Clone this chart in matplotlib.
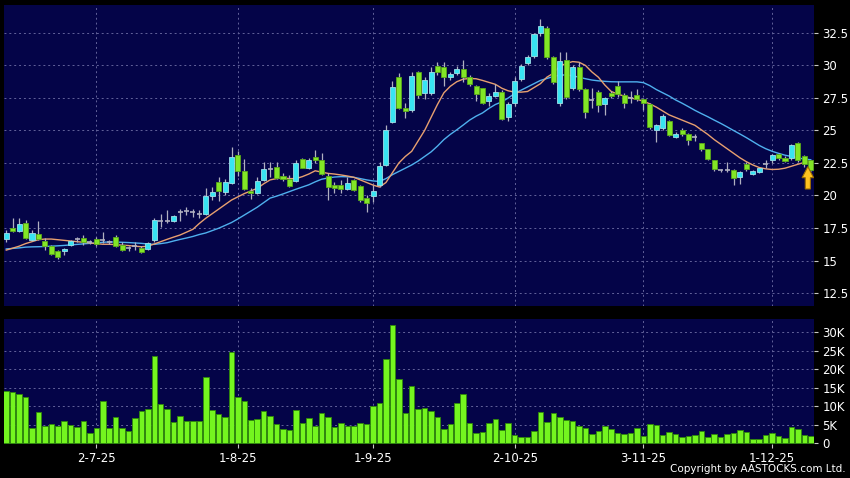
import numpy as np
import matplotlib
matplotlib.use("Agg")
import matplotlib.pyplot as plt
from matplotlib.patches import FancyArrow

# ---- data (daily bars, 11 Jun 2025 - 8 Dec 2025) ----
opens = [16.63, 17.53, 17.27, 17.86, 16.58, 17.07, 16.53, 16.12, 15.70, 15.70,
         16.17, 16.68, 16.70, 16.45, 16.63, 16.58, 16.45, 16.78, 16.19, 15.94,
         16.12, 16.00, 15.91, 16.58, 18.04, 18.04, 18.04, 18.70, 18.80, 18.70,
         18.60, 18.57, 19.96, 21.01, 20.24, 20.93, 23.09, 21.91, 20.34, 20.16,
         21.19, 22.01, 22.21, 21.52, 21.24, 21.14, 22.80, 22.09, 22.93, 22.73,
         21.52, 20.80, 20.80, 20.50, 21.19, 20.73, 19.78, 19.96, 20.80, 22.34,
         25.63, 29.09, 26.70, 26.58, 29.47, 27.86, 27.86, 29.99, 29.91, 29.09,
         29.40, 29.70, 29.09, 28.42, 28.25, 27.27, 27.65, 27.99, 26.01, 27.09,
         28.94, 30.17, 30.76, 32.47, 32.86, 30.63, 27.09, 30.42, 28.25, 29.85,
         28.19, 27.35, 27.99, 27.01, 27.86, 28.42, 27.73, 27.50, 27.73, 27.40,
         27.04, 25.04, 25.17, 25.73, 24.47, 25.00, 24.71, 24.47, 24.01, 23.58,
         22.70, 21.93, 21.93, 21.96, 21.45, 22.40, 21.63, 21.78, 22.45, 22.73,
         23.19, 22.91, 22.86, 24.01, 23.04, 22.73]
highs = [17.35, 18.30, 18.24, 18.10, 17.35, 18.04, 16.76, 16.20, 15.80, 16.00,
         16.58, 16.83, 16.96, 16.58, 16.78, 17.20, 16.60, 17.00, 16.45, 16.12,
         16.45, 16.12, 16.42, 18.25, 18.58, 18.90, 18.47, 19.00, 19.14, 18.94,
         18.90, 20.55, 20.68, 21.40, 21.30, 23.75, 23.40, 22.78, 20.55, 21.45,
         22.60, 22.60, 22.60, 21.70, 21.57, 22.70, 22.90, 22.85, 23.50, 23.30,
         21.70, 21.05, 21.19, 21.45, 21.30, 20.80, 20.04, 20.80, 22.60, 25.42,
         28.83, 29.40, 27.10, 29.50, 29.60, 29.10, 29.90, 30.25, 30.30, 29.50,
         29.95, 30.45, 29.30, 28.50, 28.30, 27.85, 28.60, 28.10, 27.20, 29.10,
         30.10, 30.80, 32.50, 33.60, 33.00, 30.70, 31.00, 31.00, 30.00, 30.30,
         28.30, 28.30, 28.10, 27.55, 28.00, 28.80, 27.90, 28.00, 28.20, 27.50,
         27.10, 25.50, 26.30, 25.80, 24.85, 25.20, 24.80, 24.70, 24.05, 23.60,
         22.75, 22.05, 22.60, 22.00, 21.85, 22.60, 21.95, 22.15, 22.70, 23.20,
         23.30, 23.00, 23.95, 24.10, 23.10, 22.75]
lows = [16.45, 17.22, 17.20, 16.65, 16.53, 16.55, 15.81, 15.42, 15.14, 15.42,
        16.12, 16.45, 16.20, 16.27, 16.12, 16.32, 16.30, 16.02, 15.73, 15.73,
        15.81, 15.55, 15.81, 16.45, 17.60, 17.86, 17.94, 18.04, 18.50, 18.32,
        18.30, 18.50, 19.65, 19.60, 20.00, 20.88, 21.50, 20.42, 19.70, 20.10,
        21.10, 21.40, 21.27, 21.15, 20.62, 21.05, 22.08, 22.00, 22.50, 21.58,
        19.65, 20.16, 20.16, 20.42, 20.37, 19.52, 18.75, 19.52, 20.68, 22.27,
        25.55, 26.62, 25.94, 26.40, 27.50, 27.40, 27.70, 29.30, 28.40, 28.90,
        29.30, 28.70, 28.40, 27.30, 27.00, 26.90, 27.60, 25.80, 25.70, 26.90,
        28.80, 30.00, 30.60, 32.30, 30.50, 28.60, 26.90, 27.40, 28.10, 28.00,
        25.95, 26.70, 26.40, 26.20, 27.50, 27.60, 26.70, 27.10, 27.30, 26.60,
        25.10, 24.15, 25.00, 24.55, 24.40, 24.55, 23.90, 24.20, 23.45, 22.70,
        21.85, 21.80, 21.80, 20.80, 20.85, 21.85, 21.55, 21.70, 22.15, 22.50,
        22.75, 22.55, 22.75, 22.60, 22.20, 21.90]
closes = [17.09, 17.27, 17.78, 16.76, 17.09, 16.63, 16.12, 15.50, 15.30, 15.90,
          16.48, 16.68, 16.40, 16.45, 16.27, 16.58, 16.45, 16.12, 15.81, 15.94,
          16.12, 15.65, 16.32, 18.12, 18.04, 18.04, 18.40, 18.70, 18.80, 18.70,
          18.60, 19.96, 20.24, 20.37, 21.06, 22.98, 21.91, 20.47, 20.16, 21.14,
          22.01, 22.01, 21.32, 21.27, 20.75, 22.47, 22.14, 22.73, 22.73, 21.65,
          20.63, 20.55, 20.47, 20.98, 20.42, 19.65, 19.45, 20.34, 22.27, 25.04,
          28.32, 26.70, 26.50, 29.22, 27.73, 28.86, 29.47, 29.47, 29.09, 29.35,
          29.70, 29.09, 28.58, 27.78, 27.09, 27.65, 27.99, 25.88, 27.04, 28.83,
          29.99, 30.68, 32.40, 33.04, 30.63, 28.76, 30.35, 27.55, 29.85, 28.19,
          26.45, 27.35, 26.96, 27.47, 27.65, 27.78, 27.09, 27.50, 27.40, 27.09,
          25.24, 25.42, 26.12, 24.65, 24.70, 24.72, 24.27, 24.47, 23.58, 22.80,
          22.02, 21.93, 21.93, 21.32, 21.78, 22.01, 21.87, 22.09, 22.45, 23.12,
          22.91, 22.65, 23.88, 22.73, 22.40, 21.96]
# volume in thousands
volumes = [14.1, 14.0, 13.3, 12.4, 4.0, 8.4, 4.6, 5.1, 4.8, 6.1,
           4.9, 4.5, 5.9, 2.8, 4.2, 11.3, 4.1, 7.1, 4.2, 3.4,
           6.7, 8.7, 9.4, 23.6, 10.7, 9.3, 5.8, 7.3, 6.0, 6.0,
           6.0, 18.0, 9.1, 7.9, 7.2, 24.8, 12.4, 11.3, 6.2, 6.5,
           8.7, 7.5, 5.2, 3.8, 3.7, 8.9, 5.4, 6.7, 4.8, 8.2,
           7.0, 4.3, 5.5, 4.7, 4.8, 5.4, 5.2, 10.0, 11.0, 22.9,
           32.0, 17.4, 8.3, 15.4, 9.2, 9.6, 8.8, 7.1, 3.8, 5.1,
           10.9, 13.3, 5.4, 2.7, 3.0, 5.4, 6.6, 3.7, 5.6, 2.2,
           1.6, 1.7, 3.4, 8.4, 5.8, 8.3, 7.0, 6.4, 6.1, 4.8,
           4.0, 2.4, 3.3, 4.6, 3.8, 2.9, 2.4, 2.9, 4.0, 2.0,
           5.2, 5.0, 2.3, 3.0, 2.5, 1.6, 1.9, 2.2, 3.4, 1.8,
           2.5, 1.7, 2.6, 2.8, 3.6, 3.0, 1.2, 1.2, 2.2, 2.9,
           1.9, 1.4, 4.3, 3.9, 2.2, 2.1]
# moving averages as drawn on the chart
ma_fast = [15.80, 15.95, 16.10, 16.30, 16.45, 16.60, 16.65, 16.65, 16.60, 16.55,
           16.50, 16.45, 16.40, 16.35, 16.30, 16.25, 16.25, 16.22, 16.18, 16.15,
           16.10, 16.06, 16.10, 16.27, 16.45, 16.63, 16.80, 16.96, 17.18, 17.40,
           17.85, 18.25, 18.60, 18.95, 19.30, 19.65, 19.90, 20.15, 20.35, 20.55,
           20.90, 21.20, 21.30, 21.35, 21.30, 21.30, 21.45, 21.65, 21.90, 21.80,
           21.70, 21.65, 21.58, 21.50, 21.40, 21.20, 21.00, 20.80, 20.65, 21.00,
           21.75, 22.50, 23.00, 23.40, 24.20, 25.00, 26.00, 27.00, 27.90, 28.40,
           28.75, 28.95, 29.00, 28.98, 28.85, 28.70, 28.55, 28.25, 28.05, 27.95,
           27.95, 28.00, 28.30, 28.60, 29.10, 29.40, 29.95, 30.15, 30.30, 30.25,
           30.00, 29.50, 29.10, 28.50, 28.00, 27.80, 27.65, 27.50, 27.40, 27.25,
           27.05, 26.80, 26.50, 26.20, 26.00, 25.80, 25.60, 25.40, 25.05, 24.70,
           24.30, 23.95, 23.60, 23.25, 22.90, 22.60, 22.35, 22.15, 22.05, 22.00,
           22.02, 22.10, 22.25, 22.40, 22.55, 22.60]
ma_slow = [15.89, 15.93, 15.97, 16.03, 16.05, 16.06, 16.08, 16.10, 16.13, 16.16,
           16.20, 16.24, 16.28, 16.32, 16.35, 16.40, 16.43, 16.42, 16.40, 16.38,
           16.35, 16.32, 16.27, 16.24, 16.30, 16.37, 16.50, 16.62, 16.73, 16.85,
           17.00, 17.12, 17.30, 17.48, 17.70, 17.92, 18.20, 18.50, 18.80, 19.10,
           19.45, 19.80, 19.95, 20.12, 20.30, 20.48, 20.65, 20.82, 21.05, 21.25,
           21.35, 21.42, 21.45, 21.44, 21.40, 21.30, 21.20, 21.12, 21.08, 21.30,
           21.60, 21.85, 22.10, 22.35, 22.65, 23.00, 23.35, 23.80, 24.30, 24.70,
           25.05, 25.42, 25.80, 26.10, 26.35, 26.70, 27.00, 27.20, 27.50, 27.85,
           28.10, 28.35, 28.60, 28.85, 29.00, 29.15, 29.25, 29.28, 29.20, 29.10,
           28.98, 28.88, 28.82, 28.78, 28.75, 28.74, 28.74, 28.74, 28.74, 28.68,
           28.45, 28.15, 27.90, 27.65, 27.35, 27.10, 26.83, 26.55, 26.30, 26.06,
           25.80, 25.55, 25.28, 25.00, 24.73, 24.45, 24.15, 23.85, 23.60, 23.40,
           23.24, 23.10, 23.00, 22.90, 22.80, 22.75]

date_ticks = [14, 36, 57, 79, 99, 119]
date_labels = ['2-7-25', '1-8-25', '1-9-25', '2-10-25', '3-11-25', '1-12-25']
price_ticks = [12.5, 15, 17.5, 20, 22.5, 25, 27.5, 30, 32.5]
vol_ticks = [0, 5, 10, 15, 20, 25, 30]
vol_labels = ['0', '5K', '10K', '15K', '20K', '25K', '30K']

# ---- styling ----
BG = '#000000'
PANEL = '#040448'
GRID = '#62629a'
UP = '#38e4f2'
DOWN = '#82e626'
WICK = '#b0b0c0'
VOLC = '#74f51f'

o = np.array(opens); h = np.array(highs); l = np.array(lows); c = np.array(closes)
x = np.arange(len(o))

fig = plt.figure(figsize=(8.5, 4.78), dpi=100, facecolor=BG)
ax = fig.add_axes([0.0047, 0.3598, 0.9529, 0.6297])
axv = fig.add_axes([0.0047, 0.0711, 0.9529, 0.2615])

for a in (ax, axv):
    a.set_facecolor(PANEL)
    for s in a.spines.values():
        s.set_visible(False)
    a.yaxis.tick_right()
    a.tick_params(axis='y', colors='#c8c8c8', labelcolor='white', labelsize=8.5,
                  length=3, width=0.8, pad=3)
    a.set_xlim(-0.35, 125.5)
    for t in date_ticks:
        a.axvline(t, color=GRID, lw=0.7, ls=(0, (2, 3)), zorder=0)

# price panel
ax.set_ylim(11.5, 34.65)
ax.set_yticks(price_ticks)
ax.set_yticklabels([f'{v:g}' for v in price_ticks])
for v in price_ticks:
    ax.axhline(v, color=GRID, lw=0.7, ls=(0, (2, 3)), zorder=0)
ax.set_xticks([])

ax.plot(x, ma_slow, color='#4fb0ee', lw=1.0, zorder=2)
ax.plot(x, ma_fast, color='#e8a070', lw=1.0, zorder=2)

ax.vlines(x, l, h, color=WICK, lw=0.9, zorder=3)
body_w = 0.78
for i in range(len(x)):
    if abs(c[i] - o[i]) < 0.02:
        ax.hlines(o[i], x[i] - body_w / 2, x[i] + body_w / 2, color=WICK, lw=1.2, zorder=4)
    else:
        col = UP if c[i] > o[i] else DOWN
        edge = '#9fdfe8' if c[i] > o[i] else '#5aa81a'
        ax.bar(x[i], abs(c[i] - o[i]), bottom=min(o[i], c[i]), width=body_w,
               color=col, edgecolor=edge, linewidth=0.6, zorder=4)

arrow = FancyArrow(124.55, 20.5, 0, 1.72, width=0.8, head_width=1.8, head_length=0.85,
                   length_includes_head=True, fc='#ffc21f', ec='#9a6a00', lw=0.8, zorder=6)
ax.add_patch(arrow)

# volume panel
axv.set_ylim(-0.2, 33.6)
axv.set_yticks(vol_ticks)
axv.set_yticklabels(vol_labels)
for v in vol_ticks[1:]:
    axv.axhline(v, color=GRID, lw=0.7, ls=(0, (2, 3)), zorder=0)
axv.bar(x, volumes, width=0.86, color=VOLC, edgecolor='#2f8a0a', linewidth=0.6, zorder=3)
axv.set_xticks(date_ticks)
axv.set_xticklabels(date_labels)
axv.tick_params(axis='x', colors='#c8c8c8', labelcolor='white', labelsize=8.5,
                length=3, width=0.8, pad=3)

fig.text(0.995, 0.008, 'Copyright by AASTOCKS.com Ltd.', color='white', fontsize=7.5,
         ha='right', va='bottom')

fig.savefig('out.png', dpi=100, facecolor=BG)
